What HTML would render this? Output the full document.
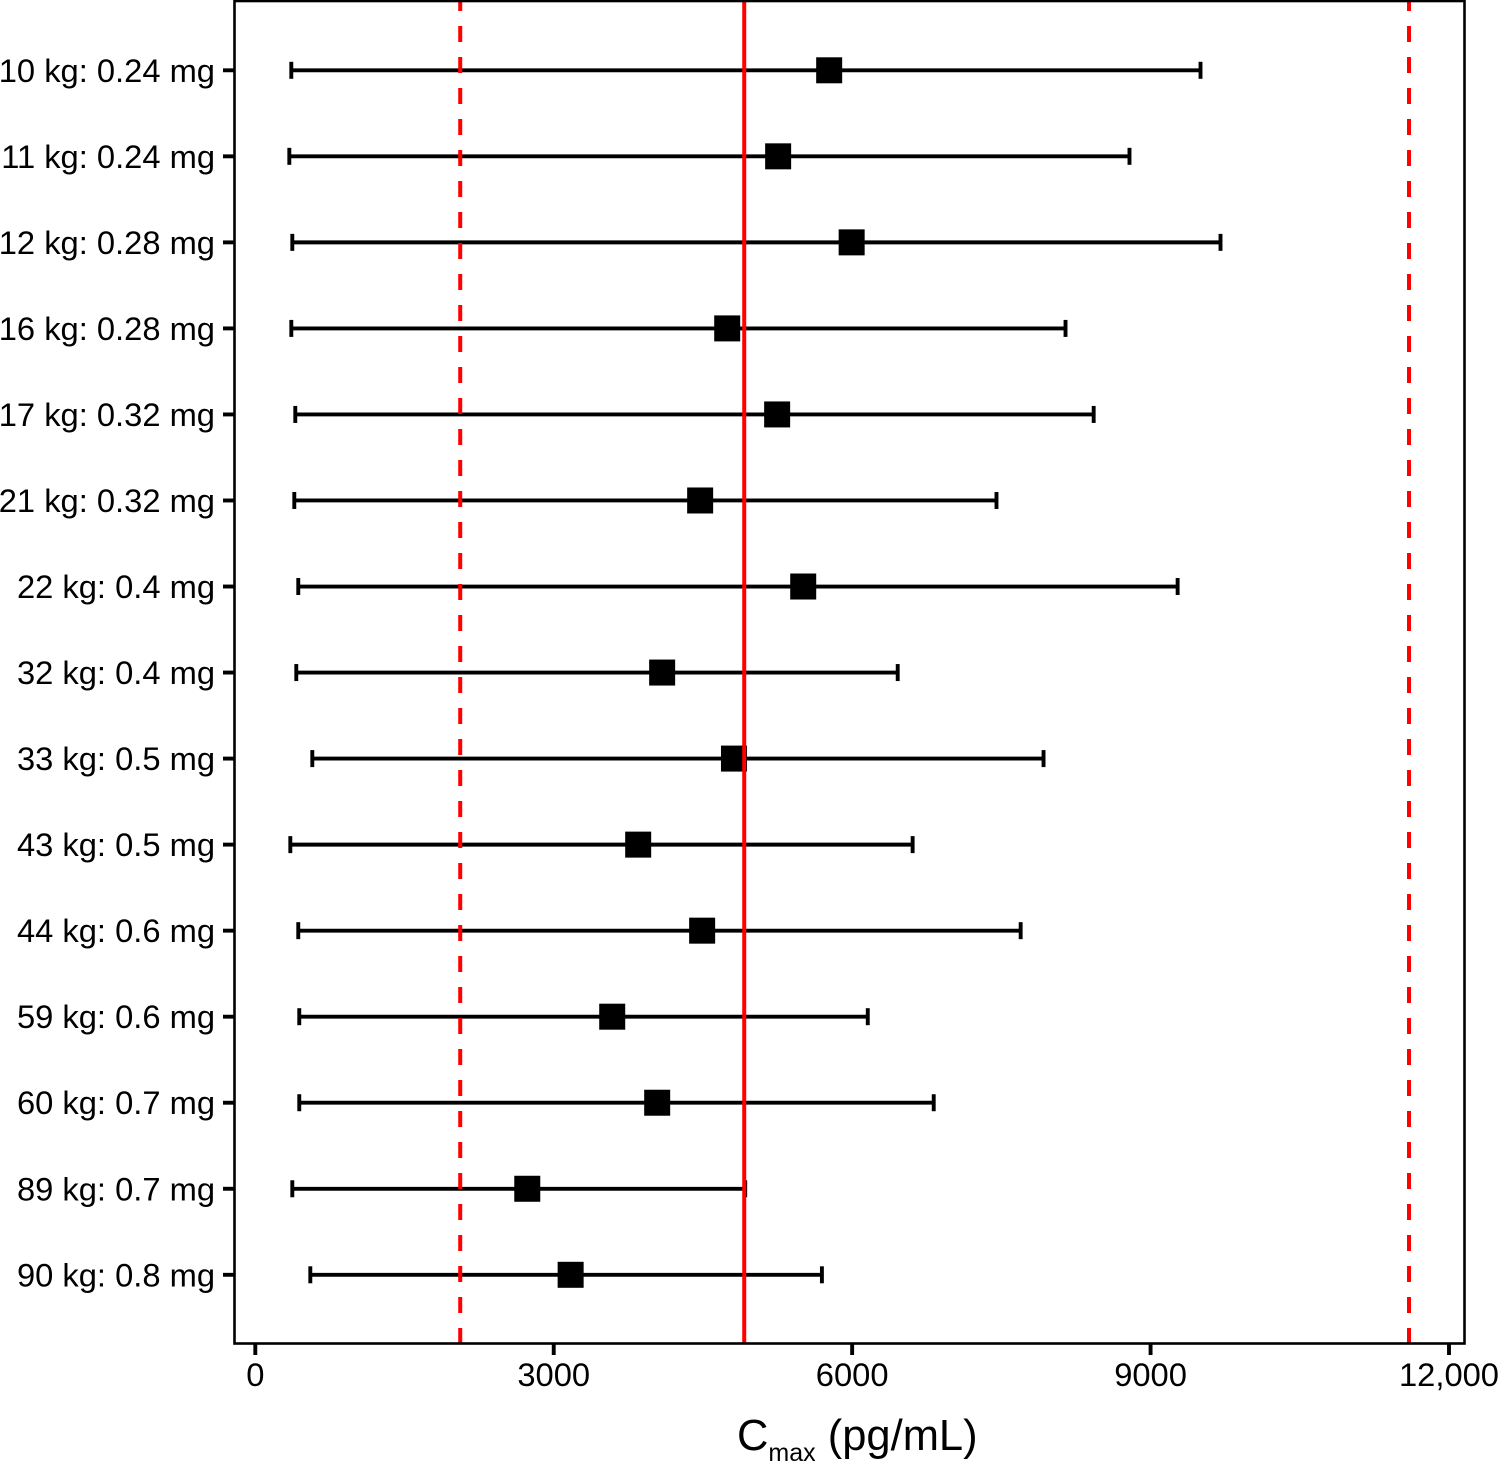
<!DOCTYPE html>
<html lang="en">
<head>
<meta charset="utf-8">
<title>Cmax forest plot</title>
<style>
html,body{margin:0;padding:0;background:#fff;width:1498px;height:1462px;overflow:hidden}
svg{display:block;font-family:"Liberation Sans",Arial,sans-serif}
</style>
</head>
<body>
<svg id="chart" xmlns="http://www.w3.org/2000/svg" width="1498" height="1462" viewBox="0 0 1498 1462">
<rect x="0" y="0" width="1498" height="1462" fill="#fff"/>
<g id="marks"></g>
<g id="refs"></g>
<rect x="234.5" y="1" width="1230" height="1342.5" fill="none" stroke="#000" stroke-width="2.6"/>
<g id="yaxis"></g>
<g id="xaxis"></g>
<text x="737" y="1450" font-size="43.5" fill="#000">C<tspan font-size="25" dy="11">max</tspan><tspan dy="-11" xml:space="preserve"> (pg/mL)</tspan></text>
</svg>
<script>
const categories = ["10 kg: 0.24 mg","11 kg: 0.24 mg","12 kg: 0.28 mg","16 kg: 0.28 mg","17 kg: 0.32 mg","21 kg: 0.32 mg","22 kg: 0.4 mg","32 kg: 0.4 mg","33 kg: 0.5 mg","43 kg: 0.5 mg","44 kg: 0.6 mg","59 kg: 0.6 mg","60 kg: 0.7 mg","89 kg: 0.7 mg","90 kg: 0.8 mg"];
const lowValues = [362,342,372,362,402,392,432,412,573,352,432,442,442,372,553];
const medianValues = [5769,5256,5995,4744,5246,4472,5508,4090,4812,3849,4492,3588,4040,2734,3170];
const highValues = [9502,8788,9703,8145,8428,7451,9272,6458,7924,6608,7694,6157,6820,4925,5696];
const xTicks = [0,3000,6000,9000,12000];
const xTickLabels = ["0","3000","6000","9000","12,000"];
const referenceMedian = 4915;
const referenceBounds = [2060,11598];

const NS = "http://www.w3.org/2000/svg";
function x(v){ return 255.3 + v * (1449 - 255.3) / 12000; }
function y(i){ return 70.3 + i * (1274.8 - 70.3) / 14; }
function make(tag, parent, props){
  const el = document.createElementNS(NS, tag);
  for (const k in props) el.setAttribute(k, props[k]);
  parent.appendChild(el);
  return el;
}
const marks = document.getElementById("marks");
const refs = document.getElementById("refs");
const yaxis = document.getElementById("yaxis");
const xaxis = document.getElementById("xaxis");

categories.forEach(function(cat, i){
  const cy = y(i);
  const line = make("line", marks, {x1:x(lowValues[i]), x2:x(highValues[i]), y1:cy, y2:cy, stroke:"#000", "stroke-width":3.9});
  
  
  const capLow = make("line", marks, {x1:x(lowValues[i]), x2:x(lowValues[i]), y1:cy-8.5, y2:cy+8.5, stroke:"#000", "stroke-width":3.9});
  
  
  const capHigh = make("line", marks, {x1:x(highValues[i]), x2:x(highValues[i]), y1:cy-8.5, y2:cy+8.5, stroke:"#000", "stroke-width":3.9});
  
  
  const pt = make("rect", marks, {x:x(medianValues[i])-13, y:cy-13, width:26, height:26, fill:"#000"});
  
  
  const tick = make("line", yaxis, {x1:223, x2:234, y1:cy, y2:cy, stroke:"#000", "stroke-width":3.9});
  
  
  const label = make("text", yaxis, {x:215, y:cy+11.5, "text-anchor":"end", "font-size":32.7, fill:"#000"});
  label.textContent = cat;
  
  
});

const solid = make("line", refs, {x1:x(referenceMedian), x2:x(referenceMedian), y1:1, y2:1343, stroke:"#ff0000", "stroke-width":4});


referenceBounds.forEach(function(v, i){
  const d = make("line", refs, {x1:x(v), x2:x(v), y1:1, y2:1343, stroke:"#ff0000", "stroke-width":4, "stroke-dasharray":"16 15", "stroke-dashoffset":6});
  
  
});

xTicks.forEach(function(v, i){
  const t = make("line", xaxis, {x1:x(v), x2:x(v), y1:1344, y2:1355, stroke:"#000", "stroke-width":3.9});
  
  
  const l = make("text", xaxis, {x:x(v), y:1386, "text-anchor":"middle", "font-size":32.7, fill:"#000"});
  l.textContent = xTickLabels[i];
  
  
});
</script>
</body>
</html>
